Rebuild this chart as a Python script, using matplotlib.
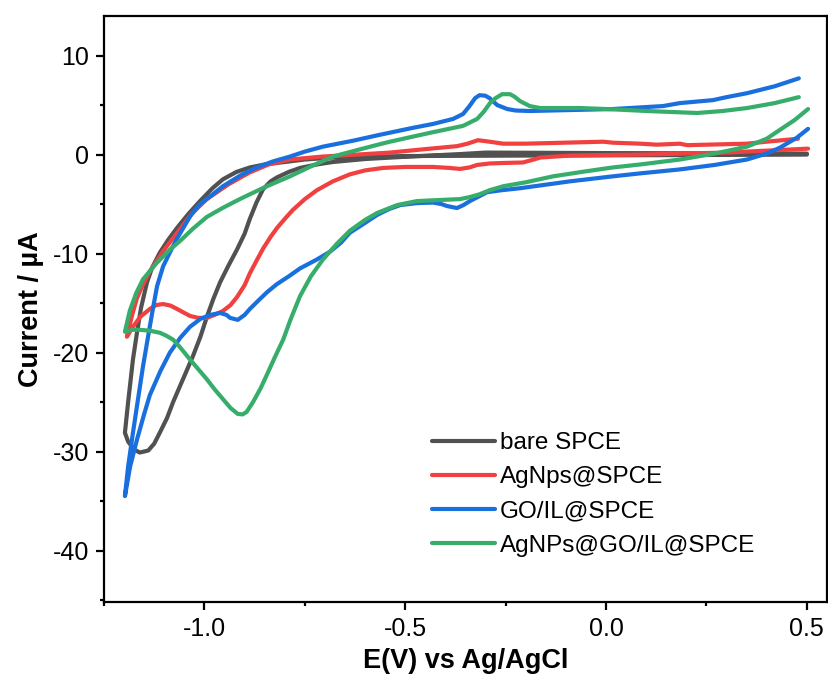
import matplotlib
matplotlib.use("Agg")
import matplotlib.pyplot as plt
from matplotlib.ticker import MultipleLocator, FormatStrFormatter

plt.rcParams['font.family'] = ['Liberation Sans', 'DejaVu Sans']
plt.rcParams['axes.unicode_minus'] = False

# CV curves: potential (V) and current (uA)
bare_x = [0.50, 0.20, -0.20, -0.50, -0.68, -0.75, -0.80, -0.85, -0.887, -0.92, -0.954, -0.98,
          -1.011, -1.04, -1.068, -1.09, -1.111, -1.13, -1.143, -1.158, -1.168, -1.178, -1.19, -1.198,
          -1.19, -1.175, -1.161, -1.14, -1.125, -1.11, -1.093, -1.078, -1.061, -1.045, -1.029,
          -1.01, -0.994, -0.978, -0.961, -0.94, -0.919, -0.90, -0.887, -0.87, -0.854, -0.835,
          -0.819, -0.79, -0.762, -0.72, -0.68, -0.60, -0.512, -0.364, -0.30, 0.0, 0.50]
bare_y = [0.0, -0.05, -0.1, -0.15, -0.3, -0.5, -0.75, -1.0, -1.3, -1.75, -2.5, -3.4,
          -4.7, -6.0, -7.4, -8.6, -9.9, -11.4, -12.9, -15.5, -18.0, -20.7, -25.0, -28.1,
          -29.0, -29.8, -30.1, -29.9, -29.2, -28.0, -26.6, -25.0, -23.4, -21.9, -20.4,
          -18.4, -16.4, -14.6, -12.9, -11.2, -9.6, -8.0, -6.5, -4.8, -3.5, -2.7,
          -2.3, -1.75, -1.35, -1.0, -0.75, -0.45, -0.25, 0.05, 0.2, 0.15, 0.1]

agnp_x = [0.478, 0.40, 0.351, 0.202, 0.184, 0.127, 0.085, 0.017, -0.007, -0.20, -0.256, -0.29,
          -0.319, -0.345, -0.371, -0.463, -0.538, -0.62, -0.705, -0.787, -0.84, -0.887, -0.94,
          -0.994, -1.03, -1.068, -1.10, -1.136, -1.155, -1.168, -1.18, -1.193,
          -1.178, -1.16, -1.136, -1.12, -1.103, -1.085, -1.068, -1.05, -1.036, -1.015, -0.994,
          -0.975, -0.954, -0.935, -0.919, -0.90, -0.887, -0.87, -0.854, -0.835, -0.819, -0.80,
          -0.78, -0.75, -0.72, -0.68, -0.638, -0.60, -0.555, -0.50, -0.431, -0.39, -0.364,
          -0.34, -0.321, -0.29, -0.256, -0.207, -0.18, -0.164, -0.089, 0.085, 0.30, 0.503]
agnp_y = [1.6, 1.3, 1.1, 0.95, 1.1, 1.0, 1.1, 1.2, 1.3, 1.1, 1.1, 1.3,
          1.45, 1.1, 0.85, 0.5, 0.2, 0.0, -0.2, -0.5, -1.0, -1.8, -3.0,
          -4.5, -5.9, -7.9, -9.6, -11.8, -13.3, -14.5, -16.2, -18.4,
          -17.4, -16.4, -15.6, -15.2, -15.1, -15.25, -15.6, -16.0, -16.3, -16.5, -16.5,
          -16.2, -15.8, -15.2, -14.4, -13.2, -12.0, -10.7, -9.5, -8.3, -7.4, -6.5,
          -5.6, -4.5, -3.6, -2.7, -2.0, -1.6, -1.35, -1.25, -1.25, -1.35, -1.45,
          -1.3, -1.05, -0.9, -0.85, -0.8, -0.5, -0.3, -0.1, 0.0, 0.2, 0.6]

goil_x = [0.480, 0.42, 0.351, 0.30, 0.266, 0.184, 0.142, 0.017, -0.189, -0.225, -0.246, -0.271,
          -0.29, -0.301, -0.315, -0.326, -0.34, -0.356, -0.381, -0.43, -0.481, -0.563, -0.63,
          -0.705, -0.75, -0.787, -0.83, -0.869, -0.91, -0.954, -0.985, -1.011, -1.035, -1.054,
          -1.07, -1.085, -1.103, -1.118, -1.128, -1.14, -1.153, -1.165, -1.178, -1.19, -1.198,
          -1.185, -1.168, -1.15, -1.136, -1.11, -1.086, -1.06, -1.036, -1.01, -0.986, -0.961,
          -0.945, -0.936, -0.917, -0.90, -0.887, -0.862, -0.844, -0.82, -0.79, -0.762, -0.72,
          -0.687, -0.66, -0.638, -0.60, -0.570, -0.54, -0.512, -0.47, -0.431, -0.41, -0.396,
          -0.371, -0.355, -0.339, -0.315, -0.296, -0.26, -0.214, -0.089, 0.017, 0.085, 0.184,
          0.27, 0.351, 0.40, 0.433, 0.475, 0.503]
goil_y = [7.7, 6.9, 6.2, 5.8, 5.5, 5.2, 4.9, 4.6, 4.4, 4.45, 4.6, 5.0,
          5.7, 5.95, 6.0, 5.7, 4.9, 4.1, 3.6, 3.1, 2.7, 2.0, 1.4,
          0.8, 0.3, -0.2, -0.7, -1.3, -2.1, -3.2, -4.2, -5.0, -6.2, -7.5,
          -8.6, -9.8, -11.3, -13.3, -15.5, -18.3, -21.4, -24.6, -28.1, -31.5, -34.5,
          -31.5, -28.8, -26.2, -24.3, -21.9, -20.0, -18.5, -17.4, -16.6, -16.2, -16.0,
          -16.2, -16.5, -16.7, -16.2, -15.6, -14.6, -13.9, -13.1, -12.3, -11.5, -10.6,
          -9.8, -8.9, -7.9, -6.9, -6.1, -5.5, -5.1, -4.9, -4.85, -5.0, -5.2,
          -5.4, -5.1, -4.7, -4.2, -3.8, -3.6, -3.4, -2.7, -2.2, -1.9, -1.5,
          -1.05, -0.5, 0.1, 0.7, 1.7, 2.6]

hybrid_x = [0.480, 0.42, 0.351, 0.29, 0.227, 0.102, 0.0, -0.064, -0.164, -0.19, -0.214, -0.228,
            -0.239, -0.259, -0.275, -0.289, -0.305, -0.321, -0.356, -0.438, -0.538, -0.563,
            -0.62, -0.68, -0.73, -0.787, -0.85, -0.912, -0.955, -0.994, -1.029, -1.06, -1.086,
            -1.12, -1.153, -1.17, -1.186, -1.198,
            -1.18, -1.161, -1.135, -1.111, -1.095, -1.078, -1.06, -1.036, -1.015, -0.994,
            -0.975, -0.954, -0.935, -0.917, -0.905, -0.895, -0.879, -0.86, -0.844, -0.825,
            -0.804, -0.785, -0.762, -0.735, -0.705, -0.67, -0.638, -0.60, -0.570, -0.52,
            -0.471, -0.42, -0.364, -0.34, -0.314, -0.29, -0.256, -0.20, -0.132, -0.06,
            0.017, 0.085, 0.184, 0.27, 0.351, 0.40, 0.433, 0.47, 0.503]
hybrid_y = [5.8, 5.2, 4.7, 4.4, 4.2, 4.4, 4.6, 4.7, 4.7, 4.9, 5.4, 5.85,
            6.1, 6.1, 5.7, 5.2, 4.3, 3.6, 2.9, 2.2, 1.3, 1.05,
            0.45, -0.2, -1.1, -2.2, -3.3, -4.5, -5.4, -6.3, -7.5, -8.7, -9.6,
            -11.0, -12.6, -14.0, -15.8, -17.9,
            -17.7, -17.7, -17.8, -18.0, -18.3, -18.7, -19.5, -20.7, -21.7, -22.7,
            -23.7, -24.7, -25.6, -26.2, -26.25, -26.0, -25.0, -23.6, -22.2, -20.5,
            -18.7, -16.6, -14.3, -12.3, -10.6, -9.0, -7.7, -6.6, -5.9, -5.1,
            -4.7, -4.6, -4.5, -4.3, -4.0, -3.6, -3.2, -2.8, -2.2, -1.75,
            -1.3, -1.0, -0.5, 0.1, 0.8, 1.6, 2.5, 3.5, 4.6]

labels = ['bare SPCE', 'AgNps@SPCE', 'GO/IL@SPCE', 'AgNPs@GO/IL@SPCE']
colors = ['#515151', '#F14040', '#1A6FDF', '#37AD6B']

fig = plt.figure(figsize=(8.29, 6.8), dpi=100)
ax = fig.add_axes([0.1255, 0.1147, 0.872, 0.8618])

series = [(bare_x, bare_y), (agnp_x, agnp_y), (goil_x, goil_y), (hybrid_x, hybrid_y)]
for (xs, ys), lab, c in zip(series, labels, colors):
    ax.plot(xs, ys, color=c, lw=3, label=lab, solid_joinstyle='round', solid_capstyle='round')

ax.set_xlim(-1.25, 0.55)
ax.set_ylim(-45.2, 14.0)
ax.xaxis.set_major_locator(MultipleLocator(0.5))
ax.xaxis.set_minor_locator(MultipleLocator(0.25))
ax.yaxis.set_major_locator(MultipleLocator(10))
ax.yaxis.set_minor_locator(MultipleLocator(5))
ax.xaxis.set_major_formatter(FormatStrFormatter('%.1f'))

for s in ax.spines.values():
    s.set_linewidth(1.6)
ax.tick_params(which='major', length=6, width=1.6, labelsize=18, pad=5)
ax.tick_params(which='minor', length=3, width=1.6)

ax.set_xlabel('E(V) vs Ag/AgCl', fontsize=19.5, fontweight='bold', labelpad=5)
ax.set_ylabel('Current / µA', fontsize=19.5, fontweight='bold', labelpad=6)

ax.legend(loc='upper left', bbox_to_anchor=(0.4537, 0.290), frameon=False,
          fontsize=17.5, borderpad=0, borderaxespad=0, handlelength=2.6,
          handletextpad=0.2, labelspacing=0.5)

fig.savefig('out.png', dpi=100)
